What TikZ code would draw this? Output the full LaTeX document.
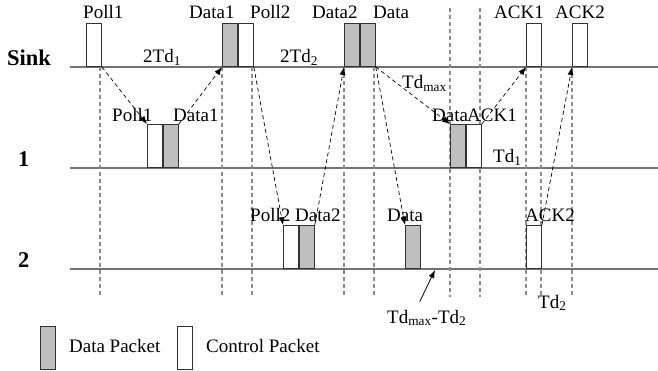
\documentclass[tikz,border=0pt]{standalone}
\usepackage{fontspec}
\setmainfont{Liberation Serif}
\usetikzlibrary{positioning,arrows.meta,backgrounds}

\begin{document}
\begin{tikzpicture}[
    x=1pt, y=-1pt,
    font=\fontsize{19}{21}\selectfont,
    pkt/.style={draw=black!80, line width=0.9pt, minimum width=15pt, minimum height=43pt,
                inner sep=0pt, anchor=south west},
    data/.style={pkt, fill=black!25},
    ctrl/.style={pkt, fill=white},
    lbl/.style={inner sep=0pt, anchor=base west},
    who/.style={inner sep=0pt, anchor=base west, font=\fontsize{22.5}{24}\selectfont\bfseries},
    tline/.style={draw=black!55, line width=1.3pt},
    guide/.style={draw=black!45, line width=1.6pt, dash pattern=on 4pt off 3pt},
    arr/.style={-{Latex[length=8pt,width=6pt]}, dash pattern=on 4pt off 3pt, line width=0.7pt},
    pointer/.style={-{Latex[length=8pt,width=6pt]}, line width=0.8pt}
]
\useasboundingbox (0,0) rectangle (658,371);
% packets at the sink
\node[ctrl] (sp1) at (86,67) {};
\node[data] (sd1) at (222,67) {};
\node[ctrl, right=0pt of sd1] (sp2) {};
\node[data] (sd2) at (344,67) {};
\node[data, right=0pt of sd2] (sd) {};
\node[ctrl] (sa1) at (526,67) {};
\node[ctrl] (sa2) at (572,67) {};
% packets at node 1
\node[ctrl] (ap1) at (147,168) {};
\node[data, right=0pt of ap1] (ad1) {};
\node[data] (ad) at (450,168) {};
\node[ctrl, right=0pt of ad] (aa1) {};
% packets at node 2
\node[ctrl] (bp2) at (283,269) {};
\node[data, right=0pt of bp2] (bd2) {};
\node[data] (bd) at (405,269) {};
\node[ctrl] (ba2) at (526,269) {};
% legend
\node[data] (kd) at (40,370) {};
\node[inner sep=0pt, right=13pt of kd, yshift=2pt] (kdt) {Data Packet};
\node[ctrl] (kc) at (177,370) {};
\node[inner sep=0pt, right=13pt of kc, yshift=2pt] (kct) {Control Packet};

\begin{scope}[on background layer]
\draw[tline] (70,67) -- (658,67);
\draw[tline] (70,168) -- (658,168);
\draw[tline] (70,269) -- (658,269);
\foreach \gx/\gtop in {100/67,222/67,252/67,344/67,374/67,450/8,480/8,526/67,541/67,572/67}
    \draw[guide] (\gx,\gtop) -- (\gx,297);
\end{scope}

% row names
\node[who] (sink) at (7,66) {Sink};
\node[who] (n1) at (18,167) {1};
\node[who] (n2) at (18,267) {2};

% labels
\node[lbl] at (83,19) {Poll1};
\node[lbl] at (189,19) {Data1};
\node[lbl] at (250,19) {Poll2};
\node[lbl] at (312,19) {Data2};
\node[lbl] at (373,19) {Data};
\node[lbl] at (494,19) {ACK1};
\node[lbl] at (555,19) {ACK2};
\node[lbl] at (143,63) {2Td\textsubscript{1}};
\node[lbl] at (280,63) {2Td\textsubscript{2}};
\node[lbl] at (402,89) {Td\textsubscript{max}};
\node[lbl] at (112,122) {Poll1};
\node[lbl] at (173,122) {Data1};
\node[lbl] at (432,122) {Data};
\node[lbl] at (467,122) {ACK1};
\node[lbl] at (493,163) {Td\textsubscript{1}};
\node[lbl] at (250,222) {Poll2};
\node[lbl] at (295,222) {Data2};
\node[lbl] at (387,222) {Data};
\node[lbl] at (525,222) {ACK2};
\node[lbl] at (538,308) {Td\textsubscript{2}};
\node[lbl] (tdd) at (387,323) {Td\textsubscript{max}-Td\textsubscript{2}};

% transmissions
\draw[arr] (sp1.south east) -- (ap1.north west);
\draw[arr] (ad1.north east) -- (sd1.south west);
\draw[arr] (sp2.south east) -- (bp2.north west);
\draw[arr] (bd2.north east) -- (sd2.south west);
\draw[arr] (sd.south east) -- (ad.north west);
\draw[arr] (sd.south east) -- (bd.north west);
\draw[arr] (aa1.north east) -- (sa1.south west);
\draw[arr] (ba2.north east) -- (sa2.south west);
\coordinate (tip) at (435,270);
\draw[pointer] ([shift={(-7,-8)}]tdd.north) -- (tip);
\end{tikzpicture}
\end{document}
